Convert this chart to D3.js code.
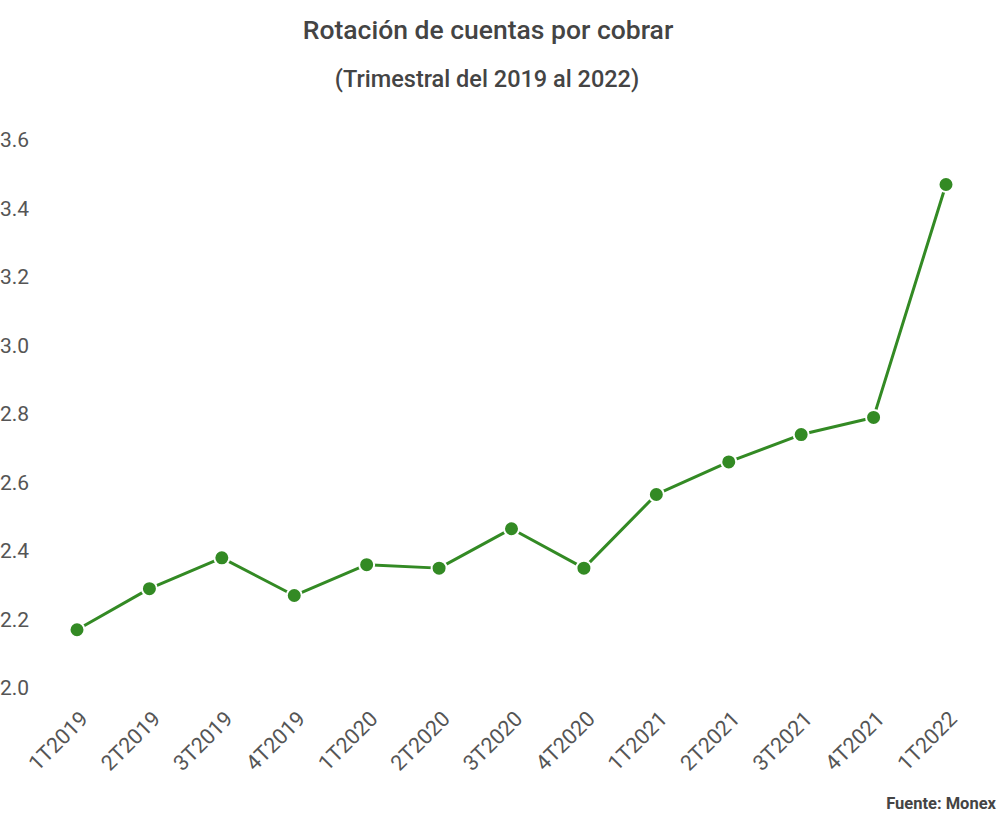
<!DOCTYPE html>
<html lang="es">
<head>
    <meta charset="UTF-8">
    <title>Rotación de cuentas por cobrar</title>
    <script src="https://cdn.jsdelivr.net/npm/d3@7"></script>
    <style>
        body { margin: 0; background: #fff; }
        text { font-family: Roboto, "Noto Sans", sans-serif; }
    </style>
</head>
<body>
<script>
    // Datos
    const quarters = ["1T2019", "2T2019", "3T2019", "4T2019", "1T2020", "2T2020", "3T2020",
        "4T2020", "1T2021", "2T2021", "3T2021", "4T2021", "1T2022"];
    const rotation = [2.17, 2.29, 2.38, 2.27, 2.36, 2.35, 2.465, 2.35, 2.565, 2.66, 2.74, 2.79, 3.47];
    const yTicks = [2.0, 2.2, 2.4, 2.6, 2.8, 3.0, 3.2, 3.4, 3.6];

    const width = 1000;
    const height = 817;
    const margin = { top: 140, right: 54, bottom: 129, left: 77 };
    const green = "#338a24";

    const svg = d3.select("body")
        .append("svg")
        .attr("width", width)
        .attr("height", height)
        .attr("viewBox", [0, 0, width, height]);

    // Títulos
    svg.append("text")
        .attr("x", 488).attr("y", 39)
        .attr("text-anchor", "middle")
        .attr("font-size", 26.5).attr("font-weight", 500)
        .attr("fill", "#444")
        .text("Rotación de cuentas por cobrar");

    svg.append("text")
        .attr("x", 487).attr("y", 87)
        .attr("text-anchor", "middle")
        .attr("font-size", 23.5).attr("font-weight", 500)
        .attr("fill", "#444")
        .text("(Trimestral del 2019 al 2022)");

    const x = d3.scalePoint()
        .domain(quarters)
        .range([margin.left, width - margin.right]);

    const y = d3.scaleLinear()
        .domain([2.0, 3.6])
        .range([height - margin.bottom, margin.top]);

    // Eje Y (solo etiquetas)
    svg.append("g")
        .selectAll("text")
        .data(yTicks)
        .join("text")
        .attr("x", 0)
        .attr("y", d => y(d))
        .attr("dy", "0.35em")
        .attr("font-size", 21)
        .attr("fill", "#555")
        .text(d => d3.format(".1f")(d));

    // Eje X (etiquetas rotadas)
    svg.append("g")
        .selectAll("text")
        .data(quarters)
        .join("text")
        .attr("transform", d => `translate(${x(d) + 7},${height - margin.bottom + 27}) rotate(-45)`)
        .attr("text-anchor", "end")
        .attr("dy", "0.35em")
        .attr("font-size", 21.5)
        .attr("fill", "#555")
        .text(d => d);

    // Línea
    const line = d3.line()
        .x((d, i) => x(quarters[i]))
        .y(d => y(d));

    svg.append("path")
        .datum(rotation)
        .attr("fill", "none")
        .attr("stroke", green)
        .attr("stroke-width", 3)
        .attr("stroke-linejoin", "round")
        .attr("d", line);

    // Puntos
    svg.append("g")
        .selectAll("circle")
        .data(rotation)
        .join("circle")
        .attr("cx", (d, i) => x(quarters[i]))
        .attr("cy", d => y(d))
        .attr("r", 7.5)
        .attr("fill", green)
        .attr("stroke", "#fff")
        .attr("stroke-width", 2);

    // Fuente
    svg.append("text")
        .attr("x", 996).attr("y", 809)
        .attr("text-anchor", "end")
        .attr("font-size", 16.5).attr("font-weight", 700)
        .attr("fill", "#444")
        .text("Fuente: Monex");
</script>
</body>
</html>
